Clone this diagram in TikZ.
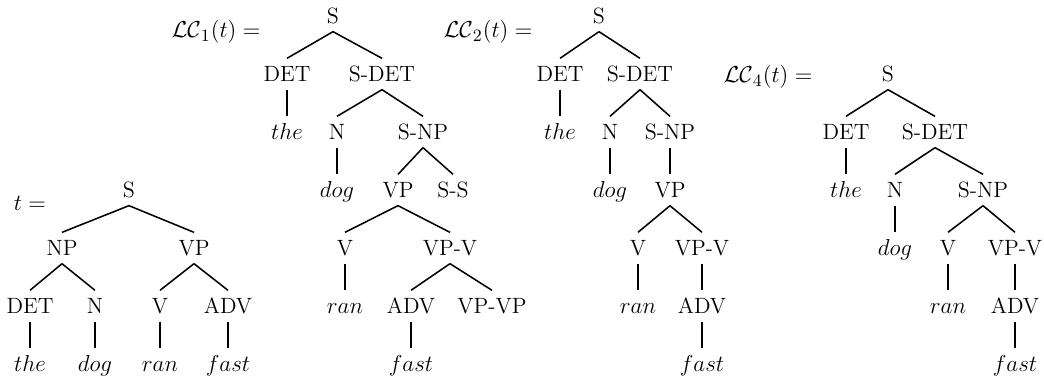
\documentclass[tikz,border=0pt]{standalone}
\usepackage{amsmath}
\begin{document}
\begin{tikzpicture}[x=0.52pt,y=-0.52pt,thick,
                    lab/.style={font=\fontsize{13}{15}\selectfont,inner sep=0pt},
                    cat/.style={font=\fontsize{11.5}{13}\selectfont,text height=8.5pt,text depth=1pt,inner xsep=2pt,inner ysep=3pt}]
  \useasboundingbox (0,0) rectangle (1044,382);

  %t%
  \node[lab] (teq) at (30,203) {$t =$};
  \node[cat] (tS) at (129,190) {S};
  \node[cat] (tNP) at (62,248) {NP};
  \node[cat] (tVP) at (194,248) {VP};
  \node[cat] (tDET) at (30,306) {DET};
  \node[cat] (tN) at (95,306) {N};
  \node[cat] (tV) at (160,306) {V};
  \node[cat] (tADV) at (228,306) {ADV};
  \node[cat] (tthe) at (30,364) {$the$};
  \node[cat] (tdog) at (95,364) {$dog$};
  \node[cat] (tran) at (160,364) {$ran$};
  \node[cat] (tfast) at (228,364) {$fast$};

  %LC1%
  \node[lab] (aeq) at (216,32) {$\mathcal{LC}_1(t) =$};
  \node[cat] (aS) at (333,16) {S};
  \node[cat] (aDET) at (287,74) {DET};
  \node[cat] (aSDET) at (382,74) {S-DET};
  \node[cat] (athe) at (287,132) {$the$};
  \node[cat] (aN) at (337,132) {N};
  \node[cat] (aSNP) at (423,132) {S-NP};
  \node[cat] (adog) at (337,190) {$dog$};
  \node[cat] (aVP) at (398,190) {VP};
  \node[cat] (aSS) at (453,190) {S-S};
  \node[cat] (aV) at (345,248) {V};
  \node[cat] (aVPV) at (450,248) {VP-V};
  \node[cat] (aran) at (345,306) {$ran$};
  \node[cat] (aADV) at (411,306) {ADV};
  \node[cat] (aVPVP) at (492,306) {VP-VP};
  \node[cat] (afast) at (411,364) {$fast$};

  %LC2%
  \node[lab] (beq) at (488,32) {$\mathcal{LC}_2(t) =$};
  \node[cat] (bS) at (599,16) {S};
  \node[cat] (bDET) at (560,74) {DET};
  \node[cat] (bSDET) at (640,74) {S-DET};
  \node[cat] (bthe) at (560,132) {$the$};
  \node[cat] (bN) at (610,132) {N};
  \node[cat] (bSNP) at (670,132) {S-NP};
  \node[cat] (bdog) at (610,190) {$dog$};
  \node[cat] (bVP) at (670,190) {VP};
  \node[cat] (bV) at (638,248) {V};
  \node[cat] (bVPV) at (702,248) {VP-V};
  \node[cat] (bran) at (638,306) {$ran$};
  \node[cat] (bADV) at (702,306) {ADV};
  \node[cat] (bfast) at (702,364) {$fast$};

  %LC4%
  \node[lab] (ceq) at (768,77) {$\mathcal{LC}_4(t) =$};
  \node[cat] (cS) at (888,74) {S};
  \node[cat] (cDET) at (846,132) {DET};
  \node[cat] (cSDET) at (935,132) {S-DET};
  \node[cat] (cthe) at (846,190) {$the$};
  \node[cat] (cN) at (895,190) {N};
  \node[cat] (cSNP) at (983,190) {S-NP};
  \node[cat] (cdog) at (895,248) {$dog$};
  \node[cat] (cV) at (948,248) {V};
  \node[cat] (cVPV) at (1015,248) {VP-V};
  \node[cat] (cran) at (948,306) {$ran$};
  \node[cat] (cADV) at (1015,306) {ADV};
  \node[cat] (cfast) at (1015,364) {$fast$};

  \path (tS.south) edge (tNP.north) edge (tVP.north)
        (tNP.south) edge (tDET.north) edge (tN.north)
        (tVP.south) edge (tV.north) edge (tADV.north)
        (tDET.south) edge (tthe.north)
        (tN.south) edge (tdog.north)
        (tV.south) edge (tran.north)
        (tADV.south) edge (tfast.north);

  \path (aS.south) edge (aDET.north) edge (aSDET.north)
        (aDET.south) edge (athe.north)
        (aSDET.south) edge (aN.north) edge (aSNP.north)
        (aN.south) edge (adog.north)
        (aSNP.south) edge (aVP.north) edge (aSS.north)
        (aVP.south) edge (aV.north) edge (aVPV.north)
        (aV.south) edge (aran.north)
        (aVPV.south) edge (aADV.north) edge (aVPVP.north)
        (aADV.south) edge (afast.north);

  \path (bS.south) edge (bDET.north) edge (bSDET.north)
        (bDET.south) edge (bthe.north)
        (bSDET.south) edge (bN.north) edge (bSNP.north)
        (bN.south) edge (bdog.north)
        (bSNP.south) edge (bVP.north)
        (bVP.south) edge (bV.north) edge (bVPV.north)
        (bV.south) edge (bran.north)
        (bVPV.south) edge (bADV.north)
        (bADV.south) edge (bfast.north);

  \path (cS.south) edge (cDET.north) edge (cSDET.north)
        (cDET.south) edge (cthe.north)
        (cSDET.south) edge (cN.north) edge (cSNP.north)
        (cN.south) edge (cdog.north)
        (cSNP.south) edge (cV.north) edge (cVPV.north)
        (cV.south) edge (cran.north)
        (cVPV.south) edge (cADV.north)
        (cADV.south) edge (cfast.north);
\end{tikzpicture}
\end{document}
